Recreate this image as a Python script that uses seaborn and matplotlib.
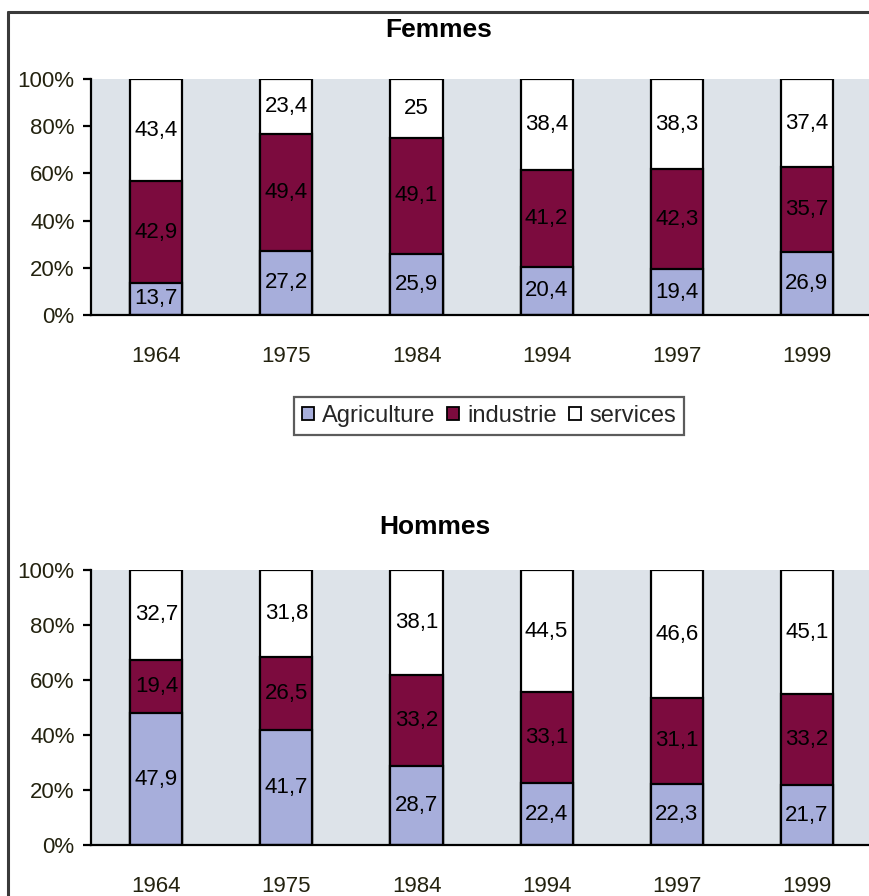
import numpy as np
import pandas as pd
import matplotlib
matplotlib.use("Agg")
import matplotlib.pyplot as plt
from matplotlib.lines import Line2D
from matplotlib.patches import Patch
import seaborn as sns

years = ["1964", "1975", "1984", "1994", "1997", "1999"]
sectors = ["Agriculture", "industrie", "services"]

femmes_agriculture = [13.7, 27.2, 25.9, 20.4, 19.4, 26.9]
femmes_industrie = [42.9, 49.4, 49.1, 41.2, 42.3, 35.7]
femmes_services = [43.4, 23.4, 25.0, 38.4, 38.3, 37.4]

hommes_agriculture = [47.9, 41.7, 28.7, 22.4, 22.3, 21.7]
hommes_industrie = [19.4, 26.5, 33.2, 33.1, 31.1, 33.2]
hommes_services = [32.7, 31.8, 38.1, 44.5, 46.6, 45.1]

colors = {"Agriculture": "#a7aedb", "industrie": "#7c0b3e", "services": "#ffffff"}
plot_bg = "#dde3e9"
text_col = "#23220f"

sns.set_theme(style="white")
plt.rcParams["font.family"] = ["Liberation Sans", "DejaVu Sans"]

fig = plt.figure(figsize=(8.70, 8.96), dpi=100)
fig.patch.set_facecolor("white")

ax_top = fig.add_axes([0.105, 0.6484, 0.897, 0.2634])
ax_bot = fig.add_axes([0.105, 0.0569, 0.897, 0.3069])


def draw_panel(ax, agri, indus, serv, title_xy, title):
    df = pd.DataFrame({"annee": years, "Agriculture": agri,
                       "industrie": indus, "services": serv})
    df["c_agri"] = df["Agriculture"]
    df["c_ind"] = df["Agriculture"] + df["industrie"]
    df["c_serv"] = df["c_ind"] + df["services"]
    # stacked bars: draw cumulative totals from the top layer down
    for col, sec in [("c_serv", "services"), ("c_ind", "industrie"), ("c_agri", "Agriculture")]:
        sns.barplot(data=df, x="annee", y=col, order=years, color=colors[sec],
                    saturation=1, width=0.4, edgecolor="black", linewidth=1.6,
                    errorbar=None, ax=ax)
    # value labels centred in each segment
    for i in range(len(years)):
        lows = [0, df["c_agri"][i], df["c_ind"][i]]
        vals = [df["Agriculture"][i], df["industrie"][i], df["services"][i]]
        for lo, v in zip(lows, vals):
            lab = f"{v:g}".replace(".", ",")
            ax.text(i, lo + v / 2, lab, ha="center", va="center",
                    fontsize=16, color="black")
    ax.set_facecolor(plot_bg)
    ax.set_xlim(-0.5, 5.5)
    ax.set_ylim(0, 100)
    ax.set_yticks(np.arange(0, 101, 20))
    ax.set_yticklabels([f"{t}%" for t in range(0, 101, 20)], fontsize=16, color=text_col)
    ax.set_xticks(range(len(years)))
    ax.set_xticklabels(years, fontsize=16, color=text_col)
    ax.set_xticks(np.arange(-0.5, 5.6, 1), minor=True)
    ax.tick_params(axis="x", which="major", length=0, pad=22)
    ax.tick_params(axis="x", which="minor", length=6, width=1.6, color="black", direction="out")
    ax.tick_params(axis="y", length=6, width=1.6, color="black", direction="out", pad=6, left=True)
    ax.set_xlabel("")
    ax.set_ylabel("")
    for s in ["top", "right"]:
        ax.spines[s].set_visible(False)
    for s in ["left", "bottom"]:
        ax.spines[s].set_color("black")
        ax.spines[s].set_linewidth(1.6)
    fig.text(title_xy[0], title_xy[1], title, ha="center", va="center",
             fontsize=19, fontweight="bold", color="black")


draw_panel(ax_top, femmes_agriculture, femmes_industrie, femmes_services,
           (439 / 870, 1 - 30 / 896), "Femmes")
draw_panel(ax_bot, hommes_agriculture, hommes_industrie, hommes_services,
           (435 / 870, 1 - 527 / 896), "Hommes")

handles = [Patch(facecolor=colors[s], edgecolor="black", linewidth=1.3) for s in sectors]
leg = fig.legend(handles, sectors, loc="center", bbox_to_anchor=(489 / 870, 1 - 416 / 896),
                 ncol=3, frameon=True, fontsize=17, handlelength=0.5, handleheight=0.5,
                 handletextpad=0.35, columnspacing=0.5, borderpad=0.35, fancybox=False)
leg.get_frame().set_edgecolor("#333333")
leg.get_frame().set_linewidth(1.6)

# outer frame of the page
fig.add_artist(Line2D([8 / 870, 1.0], [1 - 12 / 896, 1 - 12 / 896], color="#3a3a3a",
                      lw=2.2, transform=fig.transFigure))
fig.add_artist(Line2D([8 / 870, 8 / 870], [0, 1 - 12 / 896], color="#3a3a3a",
                      lw=2.2, transform=fig.transFigure))

fig.savefig("out.png", dpi=100)
